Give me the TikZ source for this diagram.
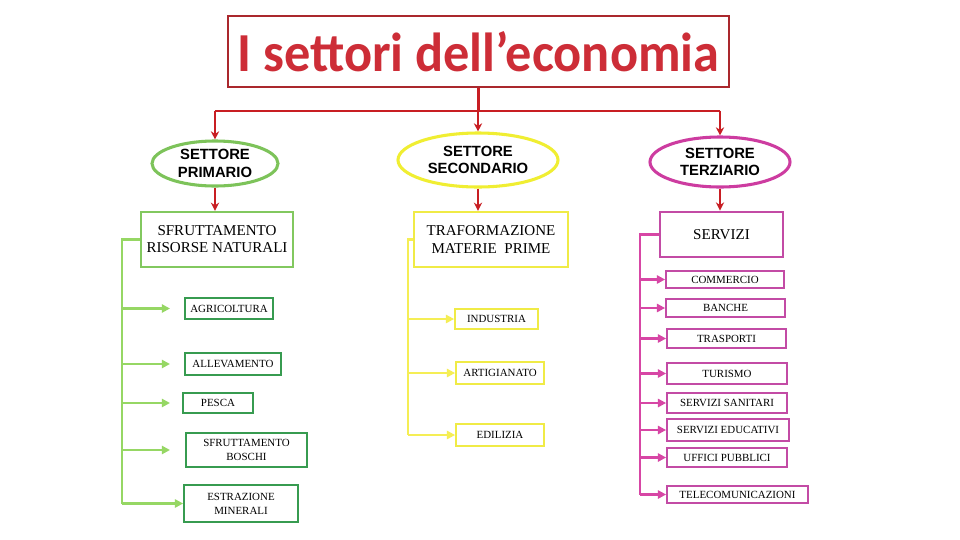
\documentclass[tikz,border=0pt]{standalone}
\usepackage{fontspec}
\setmainfont{Liberation Serif}
\newfontfamily\titlefont{Carlito}
\newfontfamily\ellfont{Liberation Sans}
\usetikzlibrary{shapes.geometric,arrows.meta}
\definecolor{tred}{RGB}{205,45,55}
\definecolor{tborder}{RGB}{170,40,45}
\definecolor{rcol}{RGB}{200,30,35}
\definecolor{gell}{RGB}{125,195,90}
\definecolor{gbig}{RGB}{130,200,95}
\definecolor{gsmall}{RGB}{55,155,80}
\definecolor{gline}{RGB}{150,215,100}
\definecolor{yell}{RGB}{240,238,50}
\definecolor{ybox}{RGB}{240,235,70}
\definecolor{yline}{RGB}{245,238,85}
\definecolor{mell}{RGB}{205,60,160}
\definecolor{mbox}{RGB}{195,75,165}
\definecolor{mline}{RGB}{215,70,165}
\newcommand\mybox[7]{\node[#6, minimum width={(#4-#2)*0.85pt}, minimum height={(#5-#3)*0.85pt}] (#1) at ({(#2+#4)/2},{(#3+#5)/2}) {#7};}
\tikzset{
  rline/.style={draw=rcol, line width=1.8pt},
  rarrow/.style={rline, -{Stealth[length=7pt,width=7pt]}},
  ell/.style={ellipse, line width=2.6pt, inner sep=0pt, align=center, font=\ellfont\bfseries\fontsize{12.6}{15}\selectfont},
  bigbox/.style={rectangle, line width=2pt, inner sep=0pt, align=center, font=\fontsize{12.8}{14.5}\selectfont},
  smallbox/.style={rectangle, line width=1.5pt, inner sep=0pt, align=center, font=\fontsize{9.3}{12}\selectfont},
  gtrunk/.style={draw=gline, line width=2.2pt},
  garrow/.style={gtrunk, -{Triangle[length=7pt,width=7pt]}},
  ytrunk/.style={draw=yline, line width=2.2pt},
  yarrow/.style={ytrunk, -{Triangle[length=7pt,width=7pt]}},
  mtrunk/.style={draw=mline, line width=2pt},
  marrow/.style={mtrunk, -{Triangle[length=7pt,width=7pt]}},
}
\begin{document}
\begin{tikzpicture}[x=0.85pt,y=-0.85pt]
\path[use as bounding box, fill=white] (0,0) rectangle (960,540);
% title
\mybox{title}{228}{16}{729}{87}{draw=tborder, line width=1.2pt, inner sep=0pt}{\titlefont\bfseries\fontsize{44.5}{44.5}\selectfont\color{tred}\scalebox{1}[1.05]{I settori dell’economia}}
% sectors
\node[ell, draw=gell, minimum width=126*0.85pt, minimum height=45*0.85pt] (prim) at (215,163.5) {SETTORE\\PRIMARIO};
\node[ell, draw=yell, minimum width=160*0.85pt, minimum height=54*0.85pt] (sec) at (478,160) {SETTORE\\SECONDARIO};
\node[ell, draw=mell, minimum width=140*0.85pt, minimum height=50*0.85pt] (terz) at (720,162) {SETTORE\\TERZIARIO};
% red connectors
\draw[rline] (title.south) -- ++(0,23) coordinate (rj);
\draw[rline] (rj -| prim.north) -- (rj -| terz.north);
\draw[rarrow] (rj -| prim.north) -- (prim.north);
\draw[rarrow] (rj -| sec.north) -- (sec.north);
\draw[rarrow] (rj -| terz.north) -- (terz.north);
% main boxes
\mybox{sfr}{141}{212}{293}{267}{bigbox, draw=gbig}{SFRUTTAMENTO\\RISORSE NATURALI}
\mybox{traf}{414}{212}{568}{267}{bigbox, draw=ybox}{TRAFORMAZIONE\\MATERIE\ \ PRIME}
\mybox{serv}{660}{212}{783}{257}{bigbox, draw=mbox, line width=2.4pt}{SERVIZI}
\draw[rarrow] (prim.south) -- (prim.south |- sfr.north);
\draw[rarrow] (sec.south) -- (sec.south |- traf.north);
\draw[rarrow] (terz.south) -- (terz.south |- serv.north);
% primary sub boxes
\mybox{agri}{185}{298}{273}{319}{smallbox, draw=gsmall}{AGRICOLTURA}
\mybox{alle}{185}{353}{281}{375}{smallbox, draw=gsmall}{ALLEVAMENTO}
\mybox{pesca}{183}{393}{253}{413}{smallbox, draw=gsmall}{PESCA}
\mybox{bosc}{186}{433}{307}{467}{smallbox, draw=gsmall}{SFRUTTAMENTO\\BOSCHI}
\mybox{mine}{184}{485}{298}{522}{smallbox, draw=gsmall}{ESTRAZIONE\\MINERALI}
\coordinate (gx) at (122,0);
\coordinate (gtip) at (170,0);
\draw[gtrunk] (sfr.west) -- (sfr.west -| gx) -- (mine.west -| gx);
\draw[garrow] (agri.west -| gx) -- (agri.west -| gtip);
\draw[garrow] (alle.west -| gx) -- (alle.west -| gtip);
\draw[garrow] (pesca.west -| gx) -- (pesca.west -| gtip);
\draw[garrow] (bosc.west -| gx) -- (bosc.west -| gtip);
\draw[garrow] (mine.west -| gx) -- (mine.west);
% secondary sub boxes
\mybox{ind}{455}{309}{538}{329}{smallbox, draw=ybox}{INDUSTRIA}
\mybox{art}{456}{362}{544}{384}{smallbox, draw=ybox}{ARTIGIANATO}
\mybox{edi}{456}{424}{544}{446}{smallbox, draw=ybox}{EDILIZIA}
\coordinate (yx) at (408,0);
\draw[ytrunk] (traf.west) -- (traf.west -| yx) -- (edi.west -| yx);
\draw[yarrow] (ind.west -| yx) -- (ind.west);
\draw[yarrow] (art.west -| yx) -- (art.west);
\draw[yarrow] (edi.west -| yx) -- (edi.west);
% tertiary sub boxes
\mybox{comm}{666}{271}{784}{288}{smallbox, draw=mbox}{COMMERCIO}
\mybox{banc}{666}{299}{785}{317}{smallbox, draw=mbox}{BANCHE}
\mybox{tras}{667}{329}{786}{348}{smallbox, draw=mbox}{TRASPORTI}
\mybox{turi}{667}{363}{787}{384}{smallbox, draw=mbox}{TURISMO}
\mybox{sani}{667}{393}{787}{413}{smallbox, draw=mbox}{SERVIZI\ SANITARI}
\mybox{educ}{667}{419}{789}{441}{smallbox, draw=mbox}{SERVIZI EDUCATIVI}
\mybox{uffi}{667}{448}{787}{467}{smallbox, draw=mbox}{UFFICI PUBBLICI}
\mybox{tele}{667}{486}{808}{503}{smallbox, draw=mbox}{TELECOMUNICAZIONI}
\coordinate (mx) at (640,0);
\draw[mtrunk] (serv.west) -- (serv.west -| mx) -- (tele.west -| mx);
\foreach \n in {comm,banc,tras,turi,sani,educ,uffi,tele}{
  \draw[marrow] (\n.west -| mx) -- (\n.west);
}
\end{tikzpicture}
\end{document}
